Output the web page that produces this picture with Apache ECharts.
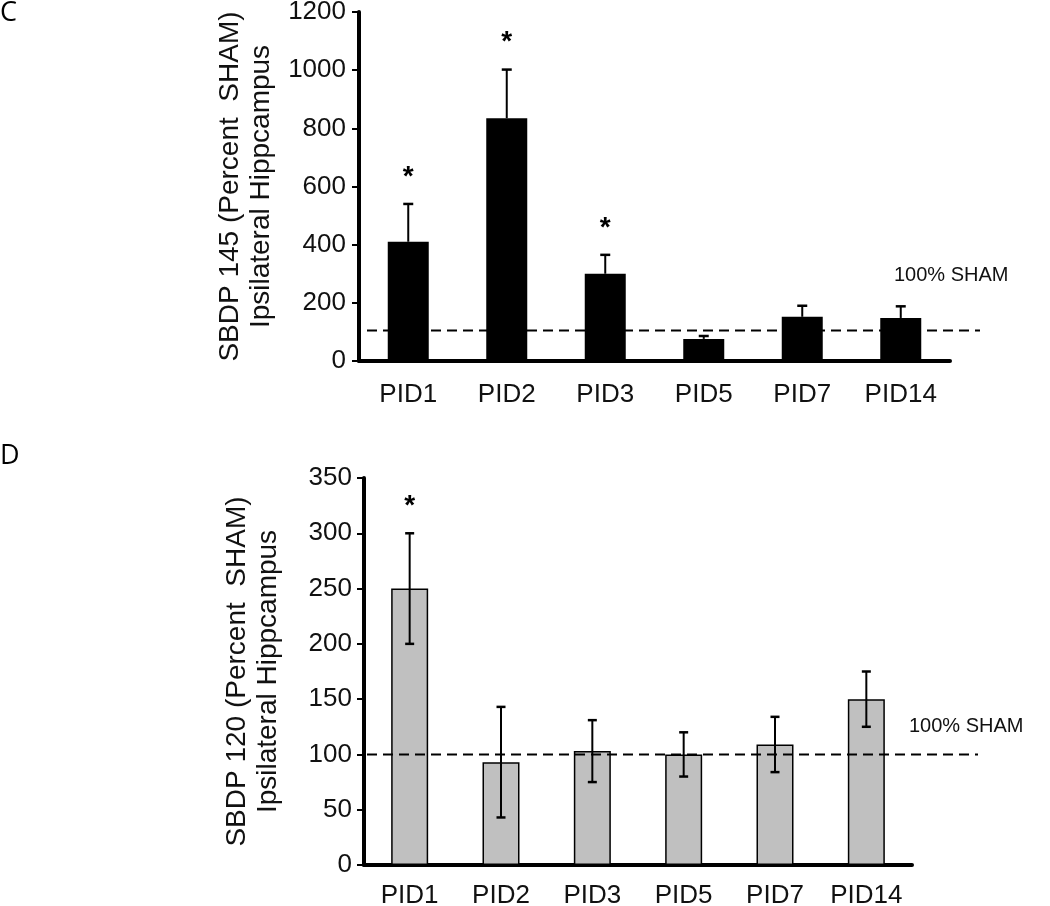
<!DOCTYPE html>
<html>
<head>
<meta charset="utf-8">
<script src="https://cdn.jsdelivr.net/npm/echarts@6/dist/echarts.min.js"></script>
<style>
html,body{margin:0;padding:0;background:#fff;}
#chart{width:1050px;height:906px;}
</style>
</head>
<body>
<div id="chart"></div>
<script>
// ---- Data ----
var categories = ['PID1', 'PID2', 'PID3', 'PID5', 'PID7', 'PID14'];

// Panel C: SBDP 145 (percent sham), mean and SEM (upper error only)
var sbdp145Mean = [410, 835, 300, 76, 152, 148];
var sbdp145Sem  = [130, 167, 65, 10, 38, 40];
var sbdp145Sig  = [1, 1, 1, 0, 0, 0];
var sbdp145Ticks = [0, 200, 400, 600, 800, 1000, 1200];
var sbdp145ShamLine = 105;

// Panel D: SBDP 120 (percent sham), mean and SEM (both directions)
var sbdp120Mean = [250, 93, 103, 100, 109, 150];
var sbdp120Sem  = [50, 50, 28, 20, 25, 25];
var sbdp120Sig  = [1, 0, 0, 0, 0, 0];
var sbdp120Ticks = [0, 50, 100, 150, 200, 250, 300, 350];
var sbdp120ShamLine = 100;

var shamLabel = '100% SHAM';

// ---- Chart ----
var FONT = '"Liberation Sans", Arial, sans-serif';
var chart = echarts.init(document.getElementById('chart'), null, {renderer: 'canvas'});

function errData(mean, sem, sig) {
  return mean.map(function (m, i) { return [i, m, sem[i], sig[i]]; });
}

function makeErrRender(both) {
  return function (params, api) {
    var i = api.value(0), m = api.value(1), s = api.value(2), sig = api.value(3);
    var pTop = api.coord([i, m + s]);
    var pMid = api.coord([i, m]);
    var pBot = api.coord([i, m - s]);
    var cap = both ? 4.5 : 5;
    var lineStyle = {stroke: '#000', lineWidth: 2};
    var children = [
      {type: 'line', shape: {x1: pTop[0], y1: pTop[1], x2: pTop[0], y2: both ? pBot[1] : pMid[1]}, style: lineStyle},
      {type: 'line', shape: {x1: pTop[0] - cap, y1: pTop[1], x2: pTop[0] + cap, y2: pTop[1]}, style: {stroke: '#000', lineWidth: 2.5}}
    ];
    if (both) {
      children.push({type: 'line', shape: {x1: pBot[0] - cap, y1: pBot[1], x2: pBot[0] + cap, y2: pBot[1]}, style: {stroke: '#000', lineWidth: 2.5}});
    }
    if (sig) {
      children.push({type: 'text', style: {text: '*', x: pTop[0], y: pTop[1] - 27, textAlign: 'center', textVerticalAlign: 'middle', font: 'bold 28px ' + FONT, fill: '#000'}});
    }
    return {type: 'group', children: children};
  };
}

var axisLabelStyle = {fontFamily: FONT, fontSize: 26, color: '#111'};
function plain(v) { return String(v); }

var option = {
  animation: false,
  backgroundColor: '#fff',
  grid: [
    {left: 359, width: 591, top: 12, height: 349, outerBoundsMode: 'none', containLabel: false},
    {left: 364, width: 548, top: 478, height: 387, outerBoundsMode: 'none', containLabel: false},
    {left: 367, right: 70, top: 12, height: 349, outerBoundsMode: 'none', containLabel: false},
    {left: 367, right: 72, top: 478, height: 387, outerBoundsMode: 'none', containLabel: false}
  ],
  xAxis: [
    {type: 'category', gridIndex: 0, data: categories,
      axisLine: {lineStyle: {color: '#000', width: 4}},
      axisTick: {show: false},
      axisLabel: Object.assign({margin: 21, interval: 0, hideOverlap: false}, axisLabelStyle)},
    {type: 'category', gridIndex: 1, data: categories,
      axisLine: {lineStyle: {color: '#000', width: 4}},
      axisTick: {show: false},
      axisLabel: Object.assign({margin: 18, interval: 0, hideOverlap: false}, axisLabelStyle)},
    {type: 'value', gridIndex: 2, min: 0, max: 1, show: false},
    {type: 'value', gridIndex: 3, min: 0, max: 1, show: false}
  ],
  yAxis: [
    {type: 'value', gridIndex: 0, min: sbdp145Ticks[0], max: sbdp145Ticks[sbdp145Ticks.length - 1], interval: sbdp145Ticks[1] - sbdp145Ticks[0],
      name: 'SBDP 145 (Percent  SHAM)\nIpsilateral Hippcampus', nameLocation: 'middle', nameGap: 80, nameRotate: 90,
      nameTextStyle: {fontFamily: FONT, fontSize: 28, lineHeight: 31, color: '#111'},
      axisLine: {show: true, lineStyle: {color: '#000', width: 4}},
      axisTick: {show: true, length: 7, lineStyle: {color: '#000', width: 2}},
      splitLine: {show: false},
      axisLabel: Object.assign({margin: 13, formatter: plain}, axisLabelStyle)},
    {type: 'value', gridIndex: 1, min: sbdp120Ticks[0], max: sbdp120Ticks[sbdp120Ticks.length - 1], interval: sbdp120Ticks[1] - sbdp120Ticks[0],
      name: 'SBDP 120 (Percent  SHAM)\nIpsilateral Hippcampus', nameLocation: 'middle', nameGap: 80, nameRotate: 90,
      nameTextStyle: {fontFamily: FONT, fontSize: 28, lineHeight: 31, color: '#111'},
      axisLine: {show: true, lineStyle: {color: '#000', width: 4}},
      axisTick: {show: true, length: 7, lineStyle: {color: '#000', width: 2}},
      splitLine: {show: false},
      axisLabel: Object.assign({margin: 12, formatter: plain}, axisLabelStyle)},
    {type: 'value', gridIndex: 2, min: sbdp145Ticks[0], max: sbdp145Ticks[sbdp145Ticks.length - 1], show: false},
    {type: 'value', gridIndex: 3, min: sbdp120Ticks[0], max: sbdp120Ticks[sbdp120Ticks.length - 1], show: false}
  ],
  series: [
    {type: 'bar', xAxisIndex: 0, yAxisIndex: 0, data: sbdp145Mean, barWidth: 41,
      itemStyle: {color: '#000'}, z: 2},
    {type: 'custom', xAxisIndex: 0, yAxisIndex: 0, data: errData(sbdp145Mean, sbdp145Sem, sbdp145Sig),
      renderItem: makeErrRender(false), z: 3},
    {type: 'bar', xAxisIndex: 1, yAxisIndex: 1, data: sbdp120Mean, barWidth: 37,
      itemStyle: {color: '#c0c0c0', borderColor: '#000', borderWidth: 1.5}, z: 2},
    {type: 'custom', xAxisIndex: 1, yAxisIndex: 1, data: errData(sbdp120Mean, sbdp120Sem, sbdp120Sig),
      renderItem: makeErrRender(true), z: 4},
    {type: 'line', xAxisIndex: 2, yAxisIndex: 2, data: [[0, sbdp145ShamLine], [1, sbdp145ShamLine]],
      symbol: 'none', lineStyle: {color: '#000', width: 2, type: [10, 6]}, z: 3, silent: true},
    {type: 'line', xAxisIndex: 3, yAxisIndex: 3, data: [[0, sbdp120ShamLine], [1, sbdp120ShamLine]],
      symbol: 'none', lineStyle: {color: '#000', width: 2, type: [10, 6]}, z: 3, silent: true}
  ],
  graphic: [
    {type: 'text', left: 0, top: 0, style: {text: 'C', fontSize: 27, fontWeight: 500, fontFamily: '"Open Sans", sans-serif', fill: '#000'}},
    {type: 'text', left: 0, top: 443, style: {text: 'D', fontSize: 27, fontWeight: 500, fontFamily: '"Open Sans", sans-serif', fill: '#000'}},
    {type: 'text', left: 894, top: 265, style: {text: shamLabel, fontSize: 20, fontFamily: FONT, fill: '#111'}},
    {type: 'text', left: 909, top: 716, style: {text: shamLabel, fontSize: 20, fontFamily: FONT, fill: '#111'}}
  ]
};
chart.setOption(option);
</script>
</body>
</html>
